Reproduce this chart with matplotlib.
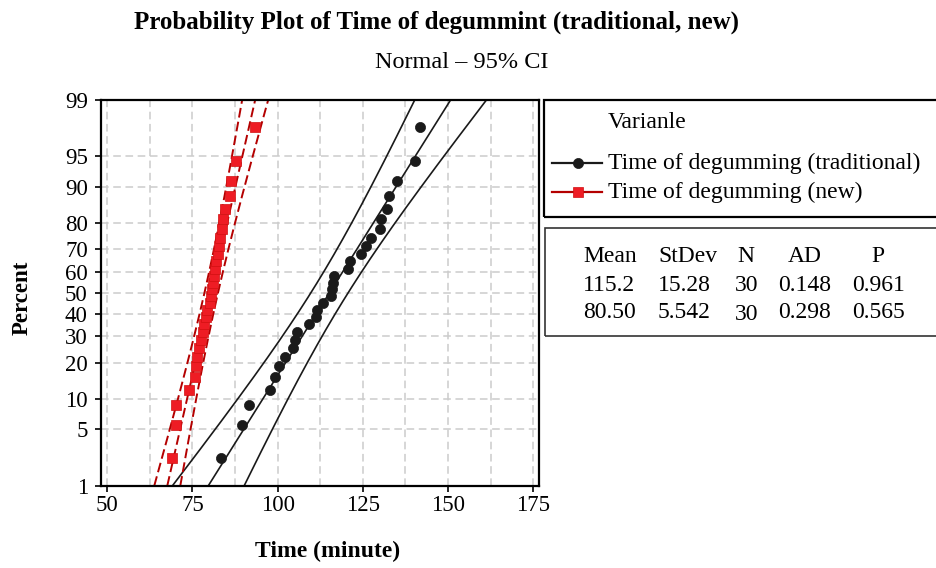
import numpy as np
import matplotlib
matplotlib.use("Agg")
import matplotlib.pyplot as plt
from matplotlib.patches import Rectangle
from matplotlib.lines import Line2D
from statistics import NormalDist

# ---------------- data ----------------
series_names = ["Time of degumming (traditional)", "Time of degumming (new)"]
time_traditional = [83.3, 89.6, 91.6, 97.8, 99.3, 100.5, 102.2, 104.6, 105.1, 105.8,
                    109.2, 111.2, 111.6, 113.2, 115.8, 116.0, 116.3, 116.6, 120.5, 121.2,
                    124.4, 125.8, 127.3, 130.0, 130.3, 132.2, 132.6, 135.1, 140.3, 141.7]
time_new = [68.9, 70.1, 70.2, 74.1, 75.7, 76.0, 76.3, 77.0, 77.4, 78.0,
            78.5, 79.0, 79.3, 80.0, 80.3, 80.7, 81.0, 81.3, 81.7, 82.0,
            82.4, 82.8, 83.2, 83.6, 84.1, 84.6, 85.9, 86.3, 87.7, 93.4]
stat_mean = [115.2, 80.50]
stat_stdev = [15.28, 5.542]
stat_n = [30, 30]
stat_ad = [0.148, 0.298]
stat_p = [0.961, 0.565]
mean_labels = ["115.2", "80.50"]
stdev_labels = ["15.28", "5.542"]
ad_labels = ["0.148", "0.298"]
p_labels = ["0.961", "0.565"]
y_ticks = [1, 5, 10, 20, 30, 40, 50, 60, 70, 80, 90, 95, 99]
x_ticks = [50, 75, 100, 125, 150, 175]

# ---------------- styles ----------------
SERIF = ["Liberation Serif", "DejaVu Serif"]
plt.rcParams["font.family"] = SERIF
BLACK = "#1a1a1a"
RED_FILL = "#ee1c24"
RED_LINE = "#b40000"

_nd = NormalDist()
_ppf = np.vectorize(_nd.inv_cdf, otypes=[float])
_cdf = np.vectorize(_nd.cdf, otypes=[float])


def fwd(p):
    p = np.clip(np.asarray(p, dtype=float), 1e-9, 100 - 1e-9)
    return _ppf(p / 100.0)


def inv(z):
    return _cdf(np.asarray(z, dtype=float)) * 100.0


W, H = 936, 568
fig = plt.figure(figsize=(W / 100, H / 100), dpi=100)
ax_l, ax_r, ax_t, ax_b = 101, 539, 100, 485.7
ax = fig.add_axes([ax_l / W, 1 - ax_b / H, (ax_r - ax_l) / W, (ax_b - ax_t) / H])
ax.set_yscale("function", functions=(fwd, inv))
ax.set_xlim(48.15, 176.7)
ax.set_ylim(1, 99)

ax.set_yticks(y_ticks)
ax.set_yticklabels([str(t) for t in y_ticks])
ax.yaxis.set_minor_locator(matplotlib.ticker.NullLocator())
ax.set_xticks(x_ticks)
ax.set_xticks(np.arange(62.5, 176, 25), minor=True)
ax.tick_params(axis="both", which="major", direction="out", length=4.5, width=1.2,
               labelsize=16.5, color="black")
ax.tick_params(axis="x", which="major", pad=2)
ax.tick_params(axis="y", which="major", pad=5)
ax.tick_params(axis="x", which="minor", length=0)
ax.grid(True, axis="x", which="both", color="#cccccc", linestyle=(0, (5, 3)), lw=1.1)
ax.grid(True, axis="y", which="major", color="#cccccc", linestyle=(0, (5, 3)), lw=1.1)
ax.set_axisbelow(True)
for s in ax.spines.values():
    s.set_linewidth(1.6)
    s.set_color("black")

z975 = _nd.inv_cdf(0.975)
zz = np.linspace(_nd.inv_cdf(0.01), _nd.inv_cdf(0.99), 300)
pp = inv(zz)

datasets = [time_traditional, time_new]
line_styles = [dict(color=BLACK, lw=1.2, ls="-"),
               dict(color=RED_LINE, lw=1.4, ls=(0, (5, 2.2)))]
marker_styles = [dict(marker="o", ms=7.3, mfc=BLACK, mec=BLACK, mew=0.5),
                 dict(marker="s", ms=7.5, mfc=RED_FILL, mec="#d01010", mew=0.5)]

for k, data in enumerate(datasets):
    x = np.sort(np.asarray(data, dtype=float))
    n = len(x)
    pct = (np.arange(1, n + 1) - 0.3) / (n + 0.4) * 100.0
    mu, sd = stat_mean[k], stat_stdev[k]
    xc = mu + sd * zz
    half = z975 * sd * np.sqrt(1.0 / n + zz ** 2 / (2.0 * n))
    for xx in (xc, xc - half, xc + half):
        ax.plot(xx, pp, zorder=2, **line_styles[k])
    ax.plot(x, pct, ls="none", zorder=3, **marker_styles[k])

# ---------------- texts ----------------
fig.text(436 / W, 1 - 22 / H, "Probability Plot of Time of degummint (traditional, new)",
         ha="center", va="center", fontsize=18, fontweight="bold")
fig.text(462 / W, 1 - 62 / H, "Normal \u2013 95% CI", ha="center", va="center", fontsize=17.5)
fig.text(22 / W, 1 - 298 / H, "Percent", rotation=90, ha="center", va="center",
         fontsize=16.5, fontweight="bold")
fig.text(328 / W, 1 - 551 / H, "Time (minute)", ha="center", va="center",
         fontsize=17, fontweight="bold")

# ---------------- legend box ----------------
def fx(px):
    return px / W


def fy(py):
    return 1 - py / H


fig.patches.append(Rectangle((fx(544), fy(217)), fx(960) - fx(544), fy(100) - fy(217),
                             transform=fig.transFigure, fill=False, ec="black", lw=1.6))
fig.text(fx(608), fy(123), "Varianle", ha="left", va="center", fontsize=17)
legend_y = [163, 192]
for k in range(2):
    ls = line_styles[k]
    fig.lines.append(Line2D([fx(552), fx(602)], [fy(legend_y[k])] * 2, transform=fig.transFigure,
                            color=ls["color"], lw=1.6, ls="-"))
    fig.lines.append(Line2D([fx(578)], [fy(legend_y[k])], transform=fig.transFigure,
                            ls="none", **marker_styles[k]))
    fig.text(fx(608), fy(legend_y[k]), series_names[k], ha="left", va="center", fontsize=17)

# ---------------- stats box ----------------
fig.patches.append(Rectangle((fx(545), fy(336)), fx(960) - fx(545), fy(228) - fy(336),
                             transform=fig.transFigure, fill=False, ec="#333333", lw=1.2))
hdr_y, row_y = 257, [285, 312]
fs = 17
fig.text(fx(583), fy(hdr_y), "Mean", ha="left", va="center", fontsize=fs)
fig.text(fx(658), fy(hdr_y), "StDev", ha="left", va="center", fontsize=fs)
fig.text(fx(746), fy(hdr_y), "N", ha="center", va="center", fontsize=fs)
fig.text(fx(805), fy(hdr_y), "AD", ha="center", va="center", fontsize=fs)
fig.text(fx(878), fy(hdr_y), "P", ha="center", va="center", fontsize=fs)
for k in range(2):
    y = fy(row_y[k])
    fig.text(fx(583), y, mean_labels[k], ha="left", va="center", fontsize=fs)
    fig.text(fx(658), y, stdev_labels[k], ha="left", va="center", fontsize=fs)
    fig.text(fx(735), fy(row_y[k] + (3 if k == 1 else 0)), str(stat_n[k]), ha="left",
             va="center", fontsize=fs)
    fig.text(fx(778), y, ad_labels[k], ha="left", va="center", fontsize=fs)
    fig.text(fx(852), y, p_labels[k], ha="left", va="center", fontsize=fs)

fig.savefig("out.png", dpi=100)
